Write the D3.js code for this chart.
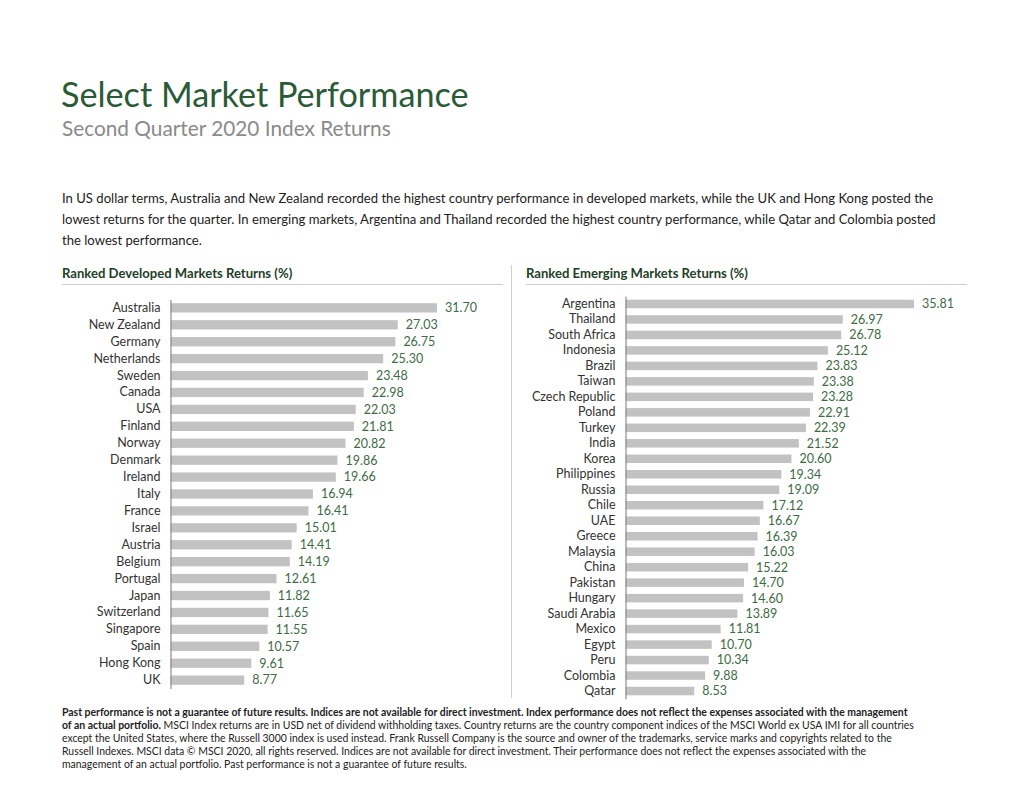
<!DOCTYPE html>
<html lang="en">
<head>
<meta charset="utf-8">
<script src="https://d3js.org/d3.v7.min.js"></script>
<style>
  body { margin: 0; background: #fff; }
  svg text { font-family: Lato, "Open Sans", sans-serif; }
</style>
</head>
<body>
<script>
  // developed markets, ranked
  const devCountries = ['Australia', 'New Zealand', 'Germany', 'Netherlands', 'Sweden', 'Canada', 'USA', 'Finland',
    'Norway', 'Denmark', 'Ireland', 'Italy', 'France', 'Israel', 'Austria', 'Belgium', 'Portugal', 'Japan',
    'Switzerland', 'Singapore', 'Spain', 'Hong Kong', 'UK'];
  const devReturns = [31.70, 27.03, 26.75, 25.30, 23.48, 22.98, 22.03, 21.81, 20.82, 19.86, 19.66, 16.94, 16.41,
    15.01, 14.41, 14.19, 12.61, 11.82, 11.65, 11.55, 10.57, 9.61, 8.77];

  // emerging markets, ranked
  const emCountries = ['Argentina', 'Thailand', 'South Africa', 'Indonesia', 'Brazil', 'Taiwan', 'Czech Republic',
    'Poland', 'Turkey', 'India', 'Korea', 'Philippines', 'Russia', 'Chile', 'UAE', 'Greece', 'Malaysia', 'China',
    'Pakistan', 'Hungary', 'Saudi Arabia', 'Mexico', 'Egypt', 'Peru', 'Colombia', 'Qatar'];
  const emReturns = [35.81, 26.97, 26.78, 25.12, 23.83, 23.38, 23.28, 22.91, 22.39, 21.52, 20.60, 19.34, 19.09,
    17.12, 16.67, 16.39, 16.03, 15.22, 14.70, 14.60, 13.89, 11.81, 10.70, 10.34, 9.88, 8.53];

  const introLines = [
    'In US dollar terms, Australia and New Zealand recorded the highest country performance in developed markets, while the UK and Hong Kong posted the',
    'lowest returns for the quarter. In emerging markets, Argentina and Thailand recorded the highest country performance, while Qatar and Colombia posted',
    'the lowest performance.'
  ];

  // each line: [bold part, normal part]
  const footLines = [
    ['Past performance is not a guarantee of future results. Indices are not available for direct investment. Index performance does not reflect the expenses associated with the management', ''],
    ['of an actual portfolio.', ' MSCI Index returns are in USD net of dividend withholding taxes. Country returns are the country component indices of the MSCI World ex USA IMI for all countries'],
    ['', 'except the United States, where the Russell 3000 index is used instead. Frank Russell Company is the source and owner of the trademarks, service marks and copyrights related to the'],
    ['', 'Russell Indexes. MSCI data \u00a9 MSCI 2020, all rights reserved. Indices are not available for direct investment. Their performance does not reflect the expenses associated with the'],
    ['', 'management of an actual portfolio. Past performance is not a guarantee of future results.']
  ];

  const green = '#2a5a36';
  const valueGreen = '#3d6b46';

  const svg = d3.select('body').append('svg')
    .attr('width', 1024)
    .attr('height', 790);

  svg.append('text')
    .attr('x', 61).attr('y', 107)
    .attr('font-size', 34.2)
    .attr('fill', green)
    .text('Select Market Performance');

  svg.append('text')
    .attr('x', 62).attr('y', 136)
    .attr('font-size', 20.8)
    .attr('fill', '#8a8a8a')
    .text('Second Quarter 2020 Index Returns');

  svg.append('g').selectAll('text')
    .data(introLines)
    .join('text')
    .attr('x', 62)
    .attr('y', (d, i) => 203 + i * 21)
    .attr('font-size', 13.1)
    .attr('fill', '#222')
    .text(d => d);

  // divider between the two panels
  svg.append('line')
    .attr('x1', 511.5).attr('x2', 511.5)
    .attr('y1', 265).attr('y2', 698)
    .attr('stroke', '#d0d0d0');

  function drawPanel(opts) {
    const g = svg.append('g');

    g.append('text')
      .attr('x', opts.left).attr('y', 278)
      .attr('font-size', 13.1)
      .attr('font-weight', 'bold')
      .attr('fill', '#1f4028')
      .text(opts.title);

    g.append('line')
      .attr('x1', opts.left).attr('x2', opts.left + 441)
      .attr('y1', 284.5).attr('y2', 284.5)
      .attr('stroke', '#cfcfcf');

    const y = d3.scaleBand()
      .domain(opts.names)
      .range(opts.yRange)
      .paddingInner(0.45)
      .paddingOuter(0.22);

    const x = d3.scaleLinear()
      .domain([0, opts.xMax])
      .range([opts.x0, opts.x1]);

    g.selectAll('rect')
      .data(opts.values)
      .join('rect')
      .attr('x', x(0))
      .attr('y', (d, i) => y(opts.names[i]))
      .attr('width', d => x(d) - x(0))
      .attr('height', y.bandwidth())
      .attr('fill', '#c2c2c2');

    const axis = g.append('g')
      .attr('transform', 'translate(' + x(0) + ',0)')
      .call(d3.axisLeft(y).tickSize(0).tickPadding(10));
    axis.select('.domain').attr('stroke', '#8c8c8c').attr('stroke-width', 1.2);
    axis.selectAll('text')
      .attr('font-family', 'Lato, sans-serif')
      .attr('font-size', 12.5)
      .attr('fill', '#333');

    g.selectAll('text.value')
      .data(opts.values)
      .join('text')
      .attr('class', 'value')
      .attr('x', d => x(d) + 8)
      .attr('y', (d, i) => y(opts.names[i]) + y.bandwidth() / 2)
      .attr('dy', '0.35em')
      .attr('font-size', 12.5)
      .attr('fill', valueGreen)
      .text(d => d.toFixed(2));
  }

  drawPanel({
    title: 'Ranked Developed Markets Returns (%)',
    left: 62,
    names: devCountries,
    values: devReturns,
    yRange: [299.5, 688.5],
    xMax: 31.70,
    x0: 170.5,
    x1: 437
  });

  drawPanel({
    title: 'Ranked Emerging Markets Returns (%)',
    left: 526,
    names: emCountries,
    values: emReturns,
    yRange: [296.3, 698.7],
    xMax: 35.81,
    x0: 625.5,
    x1: 914
  });

  const foot = svg.append('g').selectAll('text')
    .data(footLines)
    .join('text')
    .attr('x', 62)
    .attr('y', (d, i) => 716 + i * 13)
    .attr('font-size', 10.45)
    .attr('fill', '#222');
  foot.append('tspan').attr('font-weight', 'bold').text(d => d[0]);
  foot.append('tspan').text(d => d[1]);
</script>
</body>
</html>
